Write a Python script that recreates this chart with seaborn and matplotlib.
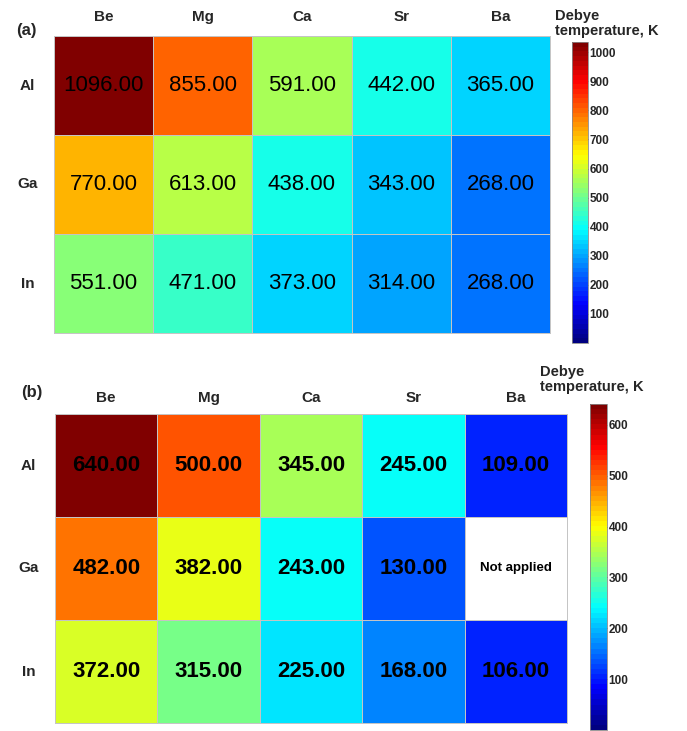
import numpy as np
import pandas as pd
import matplotlib
matplotlib.use("Agg")
import matplotlib.pyplot as plt
from matplotlib.colors import ListedColormap, Normalize
from matplotlib.cm import ScalarMappable
import seaborn as sns

sns.set_style("white")
plt.rcParams['font.family'] = ['Liberation Sans', 'DejaVu Sans']

columns = ["Be", "Mg", "Ca", "Sr", "Ba"]
rows = ["Al", "Ga", "In"]

values_a = [
    [1096, 855, 591, 442, 365],
    [770, 613, 438, 343, 268],
    [551, 471, 373, 314, 268],
]
values_b = [
    [640, 500, 345, 245, 109],
    [482, 382, 243, 130, np.nan],
    [372, 315, 225, 168, 106],
]
ticks_a = [100, 200, 300, 400, 500, 600, 700, 800, 900, 1000]
ticks_b = [100, 200, 300, 400, 500, 600]
missing_label = "Not applied"
cbar_title = "Debye\ntemperature, K"

W, H = 687, 731
fig = plt.figure(figsize=(W / 100, H / 100), dpi=100)

def fx(px):
    return px / W

def fy(py):
    return 1 - py / H

# MATLAB-style jet colormap, 64 levels
_x = np.linspace(0, 1, 64)
_r = np.clip(1.5 - np.abs(4 * _x - 3), 0, 1)
_g = np.clip(1.5 - np.abs(4 * _x - 2), 0, 1)
_b = np.clip(1.5 - np.abs(4 * _x - 1), 0, 1)
cmap = ListedColormap(np.column_stack([_r, _g, _b]))

def panel(vals, box, cbox, vmax, cbar_max, ticks, weight, col_pad):
    x0, y0, x1, y1 = box
    ax = fig.add_axes([fx(x0), fy(y1), fx(x1) - fx(x0), fy(y0) - fy(y1)])
    cx0, cy0, cx1, cy1 = cbox
    cax = fig.add_axes([fx(cx0), fy(cy1), fx(cx1) - fx(cx0), fy(cy0) - fy(cy1)])
    df = pd.DataFrame(vals, index=rows, columns=columns)
    sns.heatmap(df, ax=ax, cbar=False, cmap=cmap, vmin=0, vmax=vmax,
                annot=True, fmt=".2f",
                annot_kws=dict(fontsize=16, color="black", fontweight=weight),
                linewidths=0.5, linecolor="#c4c4c4")
    sm = ScalarMappable(norm=Normalize(0, cbar_max), cmap=cmap)
    cb = fig.colorbar(sm, cax=cax, ticks=ticks)
    cb.outline.set_linewidth(0.6)
    cb.outline.set_edgecolor("#888888")
    ax.xaxis.tick_top()
    ax.tick_params(axis="x", length=0, pad=col_pad, labelsize=11)
    ax.tick_params(axis="y", length=0, pad=19, labelsize=11)
    for t in ax.get_xticklabels():
        t.set_fontweight("bold")
        t.set_va("center")
    for t in ax.get_yticklabels():
        t.set_fontweight("bold")
        t.set_rotation(0)
        t.set_ha("center")
    for s in ax.spines.values():
        s.set_visible(True)
        s.set_color("#c4c4c4")
        s.set_linewidth(0.7)
    cax.tick_params(axis="y", direction="in", length=3, width=0.6,
                    left=True, right=True, pad=1, labelsize=8.5)
    for t in cax.get_yticklabels():
        t.set_fontweight("bold")
    return ax

ax_a = panel(values_a, (54, 36, 550, 333), (572, 42, 588, 343), 1096, 1035,
             ticks_a, "normal", 14)
ax_b = panel(values_b, (55, 414, 567, 723), (590, 404, 607, 730), 640, 641,
             ticks_b, "bold", 11.5)

ax_b.text(4.5, 1.5, missing_label, ha="center", va="center",
          fontsize=9.5, fontweight="bold", color="black")

fig.text(fx(16), fy(30), "(a)", fontsize=12, fontweight="bold", va="center", ha="left")
fig.text(fx(21), fy(393), "(b)", fontsize=12, fontweight="bold", va="center", ha="left")
fig.text(fx(555), fy(9), cbar_title, fontsize=10.5, fontweight="bold",
         va="top", ha="left", linespacing=1.05)
fig.text(fx(540), fy(365), cbar_title, fontsize=10.5, fontweight="bold",
         va="top", ha="left", linespacing=1.05)

fig.savefig("out.png", dpi=100)
